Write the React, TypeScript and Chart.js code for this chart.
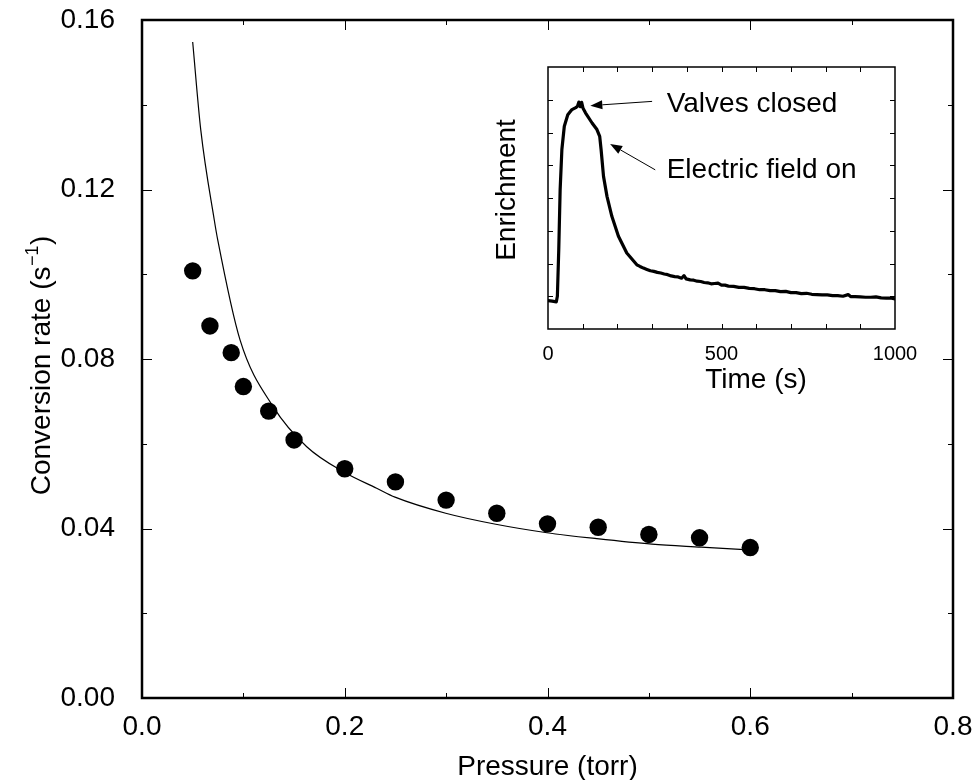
import React, { useEffect, useRef } from 'react';
import { Chart, registerables } from 'chart.js';

Chart.register(...registerables);

const FONT = '"Liberation Sans", Arial, Helvetica, sans-serif';

// ---- Main chart data ----
const pressure = [0.05, 0.067, 0.088, 0.1, 0.125, 0.15, 0.2, 0.25, 0.3, 0.35, 0.4, 0.45, 0.5, 0.55, 0.6];
const rate = [0.1008, 0.0878, 0.0815, 0.0735, 0.0677, 0.0609, 0.0541, 0.051, 0.0467, 0.0436, 0.0411, 0.0403, 0.0386, 0.0378, 0.0355];

const fitPressure = [0.05, 0.058, 0.0713, 0.0747, 0.0967, 0.1295, 0.1625, 0.2, 0.2315, 0.2496, 0.2996, 0.349, 0.3995, 0.4485, 0.503, 0.5517, 0.603];
const fitRate = [0.1548, 0.134, 0.1128, 0.1081, 0.0845, 0.0687, 0.0593, 0.0532, 0.0495, 0.0474, 0.0436, 0.041, 0.039, 0.0376, 0.0363, 0.0356, 0.0349];

const xMajorTicks = [0, 0.2, 0.4, 0.6, 0.8];
const xMinorTicks = [0.1, 0.3, 0.5, 0.7];
const yMajorTicks = [0, 0.04, 0.08, 0.12, 0.16];
const yMinorTicks = [0.02, 0.06, 0.1, 0.14];

const xTitle = 'Pressure (torr)';
const yTitleMain = 'Conversion rate (s';
const yTitleSup = '\u22121';
const yTitleEnd = ')';

// ---- Inset data ----
const enrichTime = [0, 12, 24, 27, 31, 35, 40, 47, 57, 69, 80, 85, 89, 93, 97, 101, 108, 127, 141, 149, 153, 160, 170, 184, 203, 227, 256,
  265, 275, 285, 295, 305, 315, 325, 335, 345, 355, 365, 375, 385, 392, 398, 410, 420, 430, 440, 450, 460, 470, 480, 490, 500,
  510, 520, 535, 550, 565, 580, 595, 610, 625, 640, 655, 670, 685, 700, 715, 730, 745, 760, 775, 790, 805, 820, 835, 850, 865,
  872, 885, 900, 915, 930, 945, 960, 975, 990, 1000];
const enrichment = [0.87, 0.85, 0.83, 1.0, 2.42, 4.25, 5.48, 6.19, 6.54, 6.7, 6.76, 6.8, 6.93, 6.79, 6.92, 6.74, 6.6, 6.29, 6.09, 5.88, 5.48, 4.66, 4.05, 3.44, 2.83, 2.32, 1.96,
  1.91, 1.86, 1.82, 1.78, 1.76, 1.73, 1.71, 1.68, 1.66, 1.62, 1.6, 1.59, 1.55, 1.63, 1.53, 1.5, 1.49, 1.46, 1.45, 1.42, 1.41, 1.38, 1.39, 1.4, 1.34,
  1.34, 1.31, 1.3, 1.27, 1.27, 1.24, 1.23, 1.2, 1.2, 1.17, 1.17, 1.14, 1.15, 1.11, 1.11, 1.08, 1.09, 1.06, 1.05, 1.04, 1.04, 1.02, 1.02, 1.0, 1.05,
  0.99, 0.99, 0.98, 0.97, 0.97, 0.98, 0.95, 0.94, 0.94, 0.92];

const insetXLabels = [0, 500, 1000];
const insetXTicks = [100, 200, 300, 400, 500, 600, 700, 800, 900];
const insetYTicks = [1, 2, 3, 4, 5, 6, 7];
const insetXTitle = 'Time (s)';
const insetYTitle = 'Enrichment';

const annotations = [
  { text: 'Valves closed', tail: [300, 6.95], tip: [122, 6.82], label: [342, 6.85] },
  { text: 'Electric field on', tail: [309, 4.86], tip: [179, 5.65], label: [342, 4.85] },
];

function drawArrow(ctx: CanvasRenderingContext2D, x1: number, y1: number, x2: number, y2: number) {
  const ang = Math.atan2(y2 - y1, x2 - x1);
  const len = 12;
  const hw = 4.5;
  const bx = x2 - len * Math.cos(ang);
  const by = y2 - len * Math.sin(ang);
  ctx.beginPath();
  ctx.moveTo(x1, y1);
  ctx.lineTo(bx, by);
  ctx.stroke();
  ctx.beginPath();
  ctx.moveTo(x2, y2);
  ctx.lineTo(bx + hw * Math.sin(ang), by - hw * Math.cos(ang));
  ctx.lineTo(bx - hw * Math.sin(ang), by + hw * Math.cos(ang));
  ctx.closePath();
  ctx.fill();
}

const zeroPad = (s: any) => {
  s.paddingTop = 0;
  s.paddingBottom = 0;
  s.paddingLeft = 0;
  s.paddingRight = 0;
};

const mainPlugin = {
  id: 'mainDecor',
  afterDraw(chart: any) {
    const { ctx, chartArea: a, scales } = chart;
    const xs = scales.x;
    const ys = scales.y;
    ctx.save();
    ctx.strokeStyle = '#000';
    ctx.fillStyle = '#000';
    ctx.lineWidth = 1;
    ctx.beginPath();
    const xt = (vals: number[], len: number) => {
      vals.forEach((v) => {
        const p = Math.round(xs.getPixelForValue(v)) + 0.5;
        ctx.moveTo(p, a.bottom);
        ctx.lineTo(p, a.bottom - len);
        ctx.moveTo(p, a.top);
        ctx.lineTo(p, a.top + len);
      });
    };
    const yt = (vals: number[], len: number) => {
      vals.forEach((v) => {
        const p = Math.round(ys.getPixelForValue(v)) + 0.5;
        ctx.moveTo(a.left, p);
        ctx.lineTo(a.left + len, p);
        ctx.moveTo(a.right, p);
        ctx.lineTo(a.right - len, p);
      });
    };
    xt(xMajorTicks, 10);
    xt(xMinorTicks, 5);
    yt(yMajorTicks, 10);
    yt(yMinorTicks, 5);
    ctx.stroke();
    ctx.lineWidth = 2.5;
    ctx.strokeRect(a.left, a.top, a.right - a.left, a.bottom - a.top);

    // x title
    ctx.font = `28px ${FONT}`;
    ctx.textAlign = 'center';
    ctx.textBaseline = 'alphabetic';
    ctx.fillText(xTitle, (a.left + a.right) / 2, 775);

    // y title with superscript
    ctx.save();
    ctx.translate(50, 366);
    ctx.rotate(-Math.PI / 2);
    ctx.textAlign = 'left';
    ctx.font = `28px ${FONT}`;
    const w1 = ctx.measureText(yTitleMain).width;
    const w3 = ctx.measureText(yTitleEnd).width;
    ctx.font = `18px ${FONT}`;
    const w2 = ctx.measureText(yTitleSup).width;
    const start = -(w1 + w2 + w3) / 2;
    ctx.font = `28px ${FONT}`;
    ctx.fillText(yTitleMain, start, 0);
    ctx.fillText(yTitleEnd, start + w1 + w2 + 1, 0);
    ctx.font = `18px ${FONT}`;
    ctx.fillText(yTitleSup, start + w1 + 0.5, -12);
    ctx.restore();
    ctx.restore();
  },
};

const insetPlugin = {
  id: 'insetDecor',
  afterDraw(chart: any) {
    const { ctx, chartArea: a, scales } = chart;
    const xs = scales.x;
    const ys = scales.y;
    ctx.save();
    ctx.strokeStyle = '#000';
    ctx.fillStyle = '#000';
    ctx.lineWidth = 1;
    ctx.beginPath();
    insetXTicks.forEach((v) => {
      const p = Math.round(xs.getPixelForValue(v)) + 0.5;
      ctx.moveTo(p, a.bottom);
      ctx.lineTo(p, a.bottom - 5);
      ctx.moveTo(p, a.top);
      ctx.lineTo(p, a.top + 5);
    });
    insetYTicks.forEach((v) => {
      const p = Math.round(ys.getPixelForValue(v)) + 0.5;
      ctx.moveTo(a.left, p);
      ctx.lineTo(a.left + 5, p);
      ctx.moveTo(a.right, p);
      ctx.lineTo(a.right - 5, p);
    });
    ctx.stroke();
    ctx.lineWidth = 1.5;
    ctx.strokeRect(a.left, a.top, a.right - a.left, a.bottom - a.top);

    // titles
    ctx.font = `28px ${FONT}`;
    ctx.textAlign = 'center';
    ctx.textBaseline = 'alphabetic';
    ctx.fillText(insetXTitle, 276, 338);
    ctx.save();
    ctx.translate(35, 140);
    ctx.rotate(-Math.PI / 2);
    ctx.fillText(insetYTitle, 0, 0);
    ctx.restore();

    // annotations
    ctx.lineWidth = 1;
    annotations.forEach((an) => {
      drawArrow(
        ctx,
        xs.getPixelForValue(an.tail[0]),
        ys.getPixelForValue(an.tail[1]),
        xs.getPixelForValue(an.tip[0]),
        ys.getPixelForValue(an.tip[1])
      );
      ctx.textAlign = 'left';
      ctx.textBaseline = 'middle';
      ctx.font = `28px ${FONT}`;
      ctx.fillText(an.text, xs.getPixelForValue(an.label[0]), ys.getPixelForValue(an.label[1]));
    });
    ctx.restore();
  },
};

export default function App() {
  const mainRef = useRef<HTMLCanvasElement | null>(null);
  const insetRef = useRef<HTMLCanvasElement | null>(null);

  useEffect(() => {
    document.body.style.margin = '0';
    document.body.style.overflow = 'hidden';
    const mainChart = new Chart(mainRef.current as HTMLCanvasElement, {
      type: 'scatter',
      data: {
        datasets: [
          {
            label: 'fit',
            data: fitPressure.map((p, i) => ({ x: p, y: fitRate[i] })),
            showLine: true,
            borderColor: '#000',
            borderWidth: 1.2,
            pointRadius: 0,
            cubicInterpolationMode: 'monotone',
            fill: false,
          },
          {
            label: 'data',
            data: pressure.map((p, i) => ({ x: p, y: rate[i] })),
            showLine: false,
            pointRadius: 8.7,
            pointBackgroundColor: '#000',
            pointBorderColor: '#000',
            pointBorderWidth: 0,
          },
        ],
      } as any,
      options: {
        responsive: false,
        animation: false,
        devicePixelRatio: 1,
        layout: { padding: { left: 0, right: 22, top: 20, bottom: 0 } },
        plugins: { legend: { display: false }, tooltip: { enabled: false } },
        scales: {
          x: {
            type: 'linear',
            min: 0,
            max: 0.8,
            grid: { display: false },
            border: { display: false },
            afterBuildTicks: (s: any) => {
              s.ticks = xMajorTicks.map((v) => ({ value: v }));
            },
            afterFit: (s: any) => {
              s.height = 82;
              zeroPad(s);
            },
            ticks: {
              color: '#000',
              padding: 4,
              maxRotation: 0,
              autoSkip: false,
              font: { family: FONT, size: 28 },
              callback: (v: any) => Number(v).toFixed(1),
            },
          },
          y: {
            type: 'linear',
            min: 0,
            max: 0.16,
            grid: { display: false },
            border: { display: false },
            afterBuildTicks: (s: any) => {
              s.ticks = yMajorTicks.map((v) => ({ value: v }));
            },
            afterFit: (s: any) => {
              s.width = 142;
              zeroPad(s);
            },
            ticks: {
              color: '#000',
              padding: 19,
              autoSkip: false,
              font: { family: FONT, size: 28 },
              callback: (v: any) => Number(v).toFixed(2),
            },
          },
        },
      } as any,
      plugins: [mainPlugin],
    });

    const insetChart = new Chart(insetRef.current as HTMLCanvasElement, {
      type: 'line',
      data: {
        datasets: [
          {
            label: 'enrichment',
            data: enrichTime.map((t, i) => ({ x: t, y: enrichment[i] })),
            borderColor: '#000',
            borderWidth: 3.2,
            pointRadius: 0,
            tension: 0,
            borderJoinStyle: 'round',
            borderCapStyle: 'round',
            fill: false,
          },
        ],
      } as any,
      options: {
        responsive: false,
        animation: false,
        devicePixelRatio: 1,
        layout: { padding: { left: 0, right: 45, top: 17, bottom: 0 } },
        plugins: { legend: { display: false }, tooltip: { enabled: false } },
        scales: {
          x: {
            type: 'linear',
            min: 0,
            max: 1000,
            grid: { display: false },
            border: { display: false },
            afterBuildTicks: (s: any) => {
              s.ticks = insetXLabels.map((v) => ({ value: v }));
            },
            afterFit: (s: any) => {
              s.height = 71;
              zeroPad(s);
            },
            ticks: {
              color: '#000',
              padding: 5,
              maxRotation: 0,
              autoSkip: false,
              font: { family: FONT, size: 20 },
              callback: (v: any) => String(v),
            },
          },
          y: {
            type: 'linear',
            min: 0,
            max: 8,
            grid: { display: false },
            border: { display: false },
            afterFit: (s: any) => {
              s.width = 68;
              zeroPad(s);
            },
            ticks: { display: false },
          },
        },
      } as any,
      plugins: [insetPlugin],
    });

    return () => {
      mainChart.destroy();
      insetChart.destroy();
    };
  }, []);

  return (
    <div style={{ position: 'relative', width: 975, height: 780, background: '#fff' }}>
      <canvas ref={mainRef} width={975} height={780} style={{ position: 'absolute', left: 0, top: 0, display: 'block' }} />
      <canvas ref={insetRef} width={460} height={350} style={{ position: 'absolute', left: 480, top: 50, display: 'block' }} />
    </div>
  );
}
